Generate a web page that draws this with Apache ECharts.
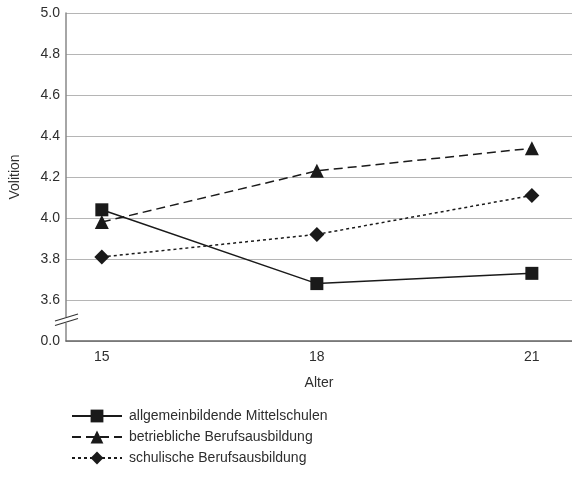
<!DOCTYPE html>
<html>
<head>
<meta charset="utf-8">
<script src="https://cdn.jsdelivr.net/npm/echarts@6/dist/echarts.min.js"></script>
<style>
html,body{margin:0;padding:0;background:#fff;}
#chart{width:572px;height:482px;}
</style>
</head>
<body>
<div id="chart"></div>
<script>
var ages = [15, 18, 21];
var xTickLabels = [15, 18, 21];
var seriesNames = ['allgemeinbildende Mittelschulen', 'betriebliche Berufsausbildung', 'schulische Berufsausbildung'];
var allgemein = [4.04, 3.68, 3.73];
var betrieblich = [3.98, 4.23, 4.34];
var schulisch = [3.81, 3.92, 4.11];
var yTicks = [3.4, 3.6, 3.8, 4.0, 4.2, 4.4, 4.6, 4.8, 5.0];
var breakLabel = '0.0';

var FONT = '"Liberation Sans", Arial, sans-serif';
var TXT = '#2e2e2e';
var LINE = '#1a1a1a';

function pairs(vals) { return ages.map(function (a, i) { return [a, vals[i]]; }); }

var chart = echarts.init(document.getElementById('chart'), null, {renderer: 'canvas'});

function mkSeries(name, vals, symbol, dash, size) {
  return {
    name: name,
    type: 'line',
    data: pairs(vals),
    symbol: symbol,
    symbolSize: size,
    smooth: false,
    lineStyle: {color: LINE, width: 1.5, type: dash},
    itemStyle: {color: LINE},
    emphasis: {disabled: true},
    animation: false,
    z: 3
  };
}

var option = {
  animation: false,
  textStyle: {fontFamily: FONT},
  grid: {left: 63, right: 0, top: 13, bottom: 141, containLabel: false},
  xAxis: {
    type: 'value',
    min: 14.5,
    max: 21.56,
    name: 'Alter',
    nameLocation: 'middle',
    nameGap: 35,
    nameTextStyle: {color: TXT, fontSize: 14, fontFamily: FONT},
    axisLine: {show: true, lineStyle: {color: '#666', width: 1.5}},
    axisTick: {show: false},
    splitLine: {show: false},
    axisLabel: {
      color: TXT, fontSize: 14, fontFamily: FONT, margin: 9,
      customValues: xTickLabels,
      formatter: function (v) { return String(v); }
    }
  },
  yAxis: {
    type: 'value',
    min: 3.4,
    max: 5.0,
    interval: 0.2,
    name: 'Volition',
    nameLocation: 'middle',
    nameGap: 44,
    nameRotate: 90,
    nameTextStyle: {color: TXT, fontSize: 14, fontFamily: FONT},
    axisLine: {show: true, lineStyle: {color: '#888', width: 1.5}},
    axisTick: {show: false},
    splitLine: {show: true, lineStyle: {color: '#b5b5b5', width: 1.2}},
    axisLabel: {
      color: TXT, fontSize: 14, fontFamily: FONT, margin: 6,
      formatter: function (v) {
        if (Math.abs(v - yTicks[0]) < 1e-6) return breakLabel;
        return v.toFixed(1);
      }
    }
  },
  legend: {
    orient: 'vertical',
    left: 66,
    top: 404,
    itemWidth: 50,
    itemHeight: 16,
    itemGap: 7,
    selectedMode: false,
    textStyle: {color: TXT, fontSize: 14, fontFamily: FONT, padding: [0, 0, 0, 2]},
    data: seriesNames
  },
  series: [
    mkSeries(seriesNames[0], allgemein, 'rect', 'solid', 13),
    mkSeries(seriesNames[1], betrieblich, 'triangle', [9, 5], 14),
    mkSeries(seriesNames[2], schulisch, 'diamond', [3, 3], 15)
  ]
};
chart.setOption(option);

// axis break marks ("//") on the y axis between 0.0 and 3.6
var p = chart.convertToPixel({gridIndex: 0}, [14.5, 3.5]);
var bx = p[0], by = p[1];
chart.setOption({
  graphic: [
    {type: 'rect', shape: {x: bx - 3, y: by - 3.5, width: 6, height: 6}, style: {fill: '#fff'}, z: 10, silent: true},
    {type: 'line', shape: {x1: bx - 11, y1: by + 0.5, x2: bx + 12, y2: by - 6.5}, style: {stroke: '#333', lineWidth: 1.2}, z: 11, silent: true},
    {type: 'line', shape: {x1: bx - 11, y1: by + 5, x2: bx + 12, y2: by - 2}, style: {stroke: '#333', lineWidth: 1.2}, z: 11, silent: true}
  ]
});
</script>
</body>
</html>
